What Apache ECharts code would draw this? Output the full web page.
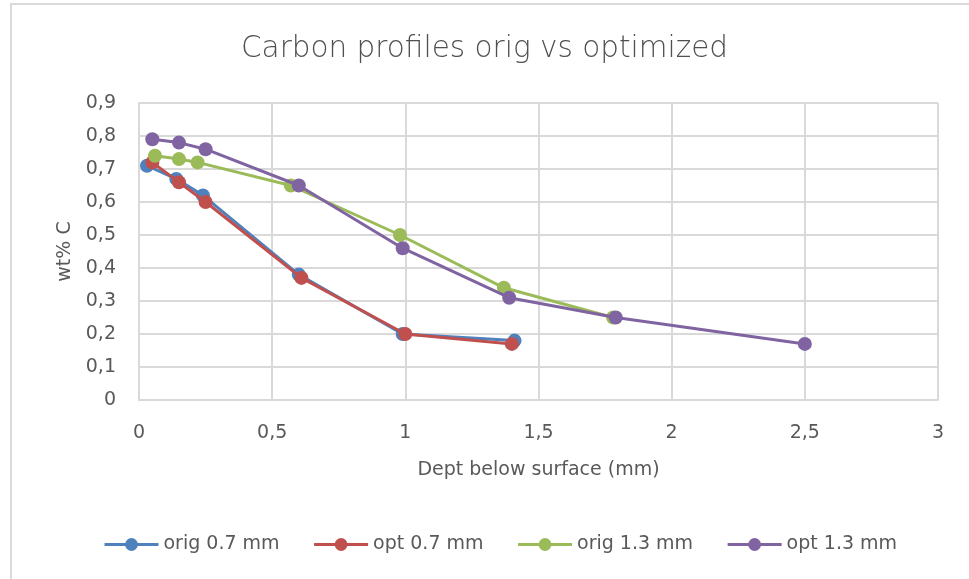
<!DOCTYPE html>
<html>
<head>
<meta charset="utf-8">
<script src="https://cdn.jsdelivr.net/npm/echarts@6/dist/echarts.min.js"></script>
<style>
  html, body { margin: 0; padding: 0; background: #fff; }
  #chart { width: 969px; height: 579px; }
</style>
</head>
<body>
<div id="chart"></div>
<script>
// Carbon content (wt% C) versus depth below surface (mm)
const seriesNames = ['orig 0.7 mm', 'opt 0.7 mm', 'orig 1.3 mm', 'opt 1.3 mm'];
const seriesColors = ['#4F81BD', '#C0504D', '#9BBB59', '#8064A2'];

const origDepth07 = [0.03, 0.14, 0.24, 0.60, 0.99, 1.41];
const origCarbon07 = [0.71, 0.67, 0.62, 0.38, 0.20, 0.18];

const optDepth07 = [0.05, 0.15, 0.25, 0.61, 1.00, 1.40];
const optCarbon07 = [0.72, 0.66, 0.60, 0.37, 0.20, 0.17];

const origDepth13 = [0.06, 0.15, 0.22, 0.57, 0.98, 1.37, 1.78];
const origCarbon13 = [0.74, 0.73, 0.72, 0.65, 0.50, 0.34, 0.25];

const optDepth13 = [0.05, 0.15, 0.25, 0.60, 0.99, 1.39, 1.79, 2.50];
const optCarbon13 = [0.79, 0.78, 0.76, 0.65, 0.46, 0.31, 0.25, 0.17];

const depthSets = [origDepth07, optDepth07, origDepth13, optDepth13];
const carbonSets = [origCarbon07, optCarbon07, origCarbon13, optCarbon13];

const FONT = '"DejaVu Sans", "Open Sans", sans-serif';
const TEXT = '#595959';
const GRIDLINE = '#d9d9d9';

const commaNum = v => String(v).replace('.', ',');

const series = seriesNames.map((name, i) => ({
  name,
  type: 'line',
  data: depthSets[i].map((x, k) => [x, carbonSets[i][k]]),
  symbol: 'circle',
  symbolSize: 14,
  lineStyle: { width: 3, color: seriesColors[i] },
  itemStyle: { color: seriesColors[i] },
  z: 2 + i
}));

const chart = echarts.init(document.getElementById('chart'));
chart.setOption({
  animation: false,
  backgroundColor: '#fff',
  graphic: [{
    type: 'rect',
    shape: { x: 11, y: 4, width: 1000, height: 620 },
    style: { fill: 'none', stroke: '#d9d9d9', lineWidth: 2 },
    silent: true
  }],
  title: {
    text: 'Carbon profiles orig vs optimized',
    left: 'center',
    top: 29,
    textStyle: { fontFamily: FONT, fontWeight: 200, fontSize: 29.5, color: '#505050' }
  },
  legend: {
    data: seriesNames,
    bottom: 20,
    left: 98,
    itemWidth: 54,
    itemHeight: 16,
    itemGap: 33,
    lineStyle: { width: 3 },
    textStyle: { fontFamily: FONT, fontSize: 19, color: TEXT }
  },
  grid: { left: 139, right: 31, top: 103, bottom: 179, containLabel: false },
  xAxis: {
    type: 'value',
    min: 0, max: 3, interval: 0.5,
    name: 'Dept below surface (mm)',
    nameLocation: 'middle',
    nameGap: 61,
    nameTextStyle: { fontFamily: FONT, fontSize: 19, color: TEXT },
    axisLine: { show: true, lineStyle: { color: GRIDLINE, width: 2 } },
    axisTick: { show: false },
    splitLine: { show: true, lineStyle: { color: GRIDLINE, width: 2 } },
    axisLabel: { margin: 24, fontFamily: FONT, fontSize: 19, color: TEXT, formatter: commaNum }
  },
  yAxis: {
    type: 'value',
    min: 0, max: 0.9, interval: 0.1,
    name: 'wt% C',
    nameLocation: 'middle',
    nameGap: 64,
    nameRotate: 90,
    nameTextStyle: { fontFamily: FONT, fontSize: 19, color: TEXT },
    axisLine: { show: true, lineStyle: { color: GRIDLINE, width: 2 } },
    axisTick: { show: false },
    splitLine: { show: true, lineStyle: { color: GRIDLINE, width: 2 } },
    axisLabel: { margin: 23, fontFamily: FONT, fontSize: 19, color: TEXT,
      formatter: v => commaNum(Math.round(v * 10) / 10) }
  },
  series
});
</script>
</body>
</html>
